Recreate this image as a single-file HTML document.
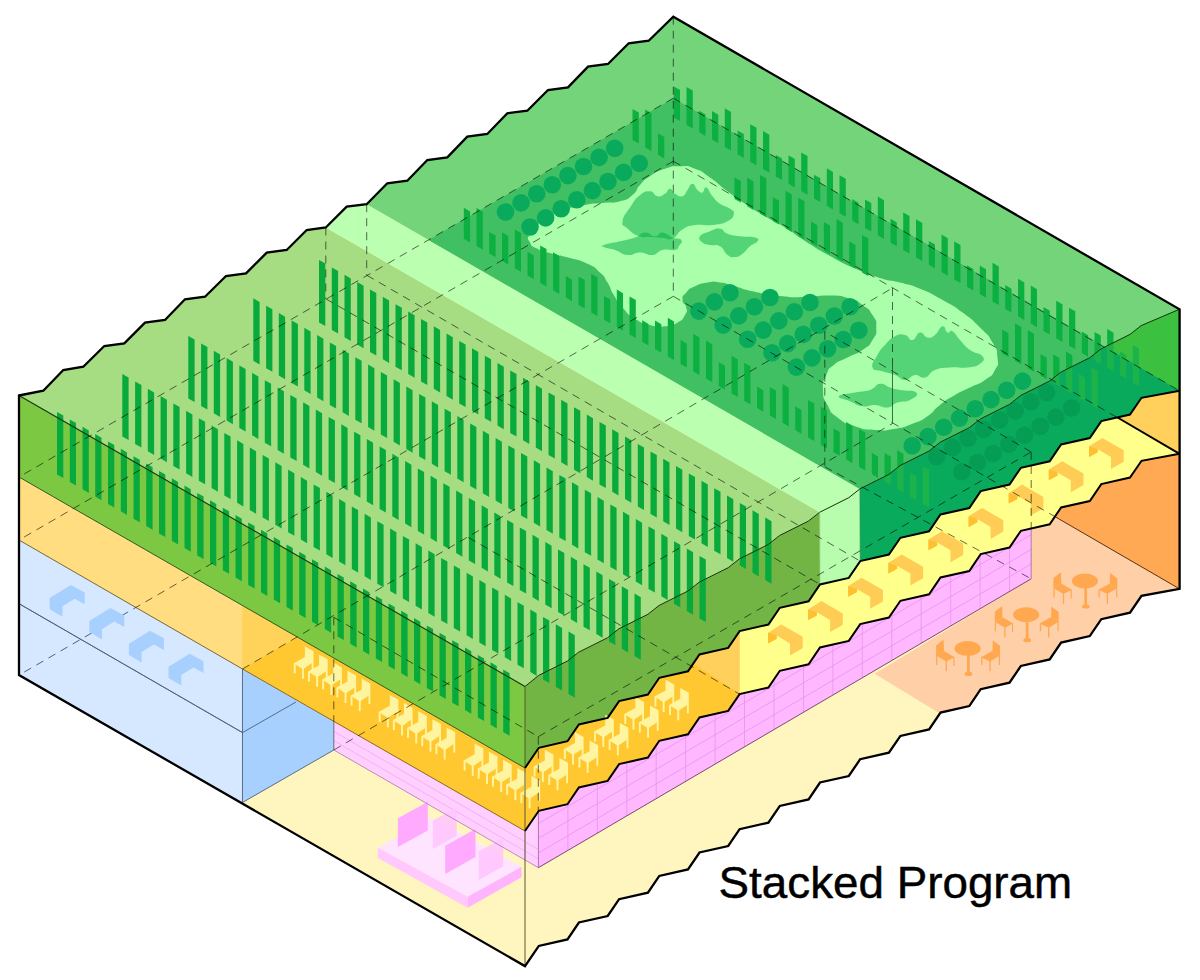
<!DOCTYPE html>
<html><head><meta charset="utf-8"><title>Stacked Program</title>
<style>
html,body{margin:0;padding:0;background:#fff;}
body{width:1200px;height:980px;overflow:hidden;font-family:"Liberation Sans",sans-serif;}
svg{display:block;}
</style></head><body>
<svg width="1200" height="980" viewBox="0 0 1200 980">
<rect width="1200" height="980" fill="#ffffff"/>
<polygon points="19,395.5 43.3,390.7 63.3,370 83.3,366.7 104.3,346 124.3,343.3 145,322.7 165,320 185,299.3 205,296.7 226,276 246,273.3 266.7,252.7 286.7,250 306.7,230 325.8,227.5 346.7,206.7 366.7,204.2 387.3,183.3 407.3,180.7 427.3,160 447.3,157.3 467.3,136.7 487.3,134 507.3,113.3 527.3,110.7 548,90 568,87.3 588,66.7 608,64 628.7,43.3 648.7,40.7 673.3,16.7 1179.6,309.3 1179.6,588.9 1141.5,595.9 1130,612.7 1101.3,619.2 1089.8,636.1 1061.1,642.6 1049.7,659.4 1020.9,665.9 1009.5,682.7 980.7,689.2 969.3,706.1 940.5,712.6 929.1,729.4 900.4,735.9 888.9,752.7 860.2,759.2 848.8,776 820,782.5 808.6,799.4 779.8,805.9 768.4,822.7 739.6,829.2 728.2,846 699.5,852.5 688,869.4 659.3,875.9 647.9,892.7 619.1,899.2 607.7,916 578.9,922.5 567.5,939.4 538.8,945.9 525,966.1 19,675.1" fill="#fff5bf" />
<polygon points="19,395.5 43.3,390.7 63.3,370 83.3,366.7 104.3,346 124.3,343.3 145,322.7 165,320 185,299.3 205,296.7 226,276 246,273.3 266.7,252.7 286.7,250 306.7,230 325.8,227.5 819.8,512.2 808.6,521 779.6,535.5 768.4,544.4 739.4,558.9 728.2,567.7 699.2,582.2 688,591 659,605.5 647.9,614.3 618.9,628.8 607.7,637.7 578.7,652.2 567.5,661 538.5,675.5 525,686.5" fill="#a6dc82" />
<polygon points="325.8,227.5 346.7,206.7 366.7,204.2 859.9,488.9 819.8,512.2" fill="#bbffb0" />
<polygon points="366.7,204.2 387.3,183.3 407.3,180.7 427.3,160 447.3,157.3 467.3,136.7 487.3,134 507.3,113.3 527.3,110.7 548,90 568,87.3 588,66.7 608,64 628.7,43.3 648.7,40.7 673.3,16.7 1179.6,309.3 1141.2,325.6 1130,334.4 1101,348.9 1089.8,357.7 1060.8,372.2 1049.7,381 1020.7,395.5 1009.5,404.4 980.5,418.9 969.3,427.7 940.3,442.2 929.1,451 900.1,465.5 888.9,474.4 859.9,488.9" fill="#74d47a" />
<polygon points="673.3,98.2 1105.3,346.7 1101,348.9 1089.8,357.7 1060.8,372.2 1049.7,381 1020.7,395.5 1009.5,404.4 980.5,418.9 969.3,427.7 940.3,442.2 929.1,451 900.1,465.5 888.9,474.4 859.9,488.9 428.5,239.9" fill="#40c062" />
<polygon points="19,395.5 525,686.5 525,768 19,477" fill="#7dc843" />
<polygon points="19,477 242.5,606 242.5,669 19,540" fill="#ffdd80" />
<polygon points="242.5,606 525,768 525,831 242.5,669" fill="#ffc830" />
<polygon points="242.5,606 297.1,637.5 242.5,669" fill="#ffd25a" />
<polygon points="19,540 242.5,669 242.5,802.5 19,675.1" fill="#d5e8ff" />
<polygon points="242.5,669 333.8,721.7 333.8,750 242.5,802.5" fill="#a8d0ff" />
<polygon points="333.8,721.7 525,831 538.8,810.8 538.4,867.7 333.8,750" fill="#ffd0ff" />
<polygon points="525,686.5 538.5,675.5 567.5,661 578.7,652.2 607.7,637.7 618.9,628.8 647.9,614.3 659,605.5 688,591 699.2,582.2 728.2,567.7 739.4,558.9 768.4,544.4 779.6,535.5 808.6,521 819.8,512.2 820,584.4 808.6,601.3 779.8,607.8 768.4,624.6 739.6,631.1 728.2,647.9 699.5,654.4 688,671.3 659.3,677.8 647.9,694.6 619.1,701.1 607.7,717.9 578.9,724.4 567.5,741.2 538.8,747.8 525,768" fill="#72b545" />
<polygon points="819.8,512.2 859.9,488.9 860.2,561.1 848.8,577.9 820,584.4" fill="#b8fcae" />
<polygon points="859.9,488.9 888.9,474.4 900.1,465.5 929.1,451 940.3,442.2 969.3,427.7 980.5,418.9 1009.5,404.4 1020.7,395.5 1049.7,381 1060.8,372.2 1089.8,357.7 1101,348.9 1130,334.4 1141.2,325.6 1179.6,309.2 1179.6,390.7 1141.5,397.8 1130,414.6 1101.3,421.1 1089.8,438 1061.1,444.5 1049.7,461.3 1020.9,467.8 1009.5,484.6 980.7,491.1 969.3,508 940.5,514.5 929.1,531.3 900.4,537.8 888.9,554.6 860.2,561.1" fill="#0aaa5c" />
<polygon points="1130,334.4 1141.2,325.6 1179.6,309.2 1179.6,390.8 1105.3,346.7" fill="#3cc040" />
<polygon points="525,768 538.8,747.8 567.5,741.2 578.9,724.4 607.7,717.9 619.1,701.1 647.9,694.6 659.3,677.8 688,671.3 699.5,654.4 728.2,647.9 739.6,631.1 739.6,694.1 728.2,710.9 699.5,717.4 688,734.3 659.3,740.8 647.9,757.6 619.1,764.1 607.7,780.9 578.9,787.4 567.5,804.2 538.8,810.8 525,831" fill="#ffc830" />
<polygon points="739.6,631.1 768.4,624.6 779.8,607.8 808.6,601.3 820,584.4 848.8,577.9 860.2,561.1 888.9,554.6 900.4,537.8 929.1,531.3 940.5,514.5 969.3,508 980.7,491.1 1009.5,484.6 1020.9,467.8 1049.7,461.3 1061.1,444.5 1089.8,438 1101.3,421.1 1130,414.6 1141.5,397.8 1179.6,390.7 1179.6,453.7 1141.5,460.8 1130,477.6 1101.3,484.1 1089.8,501 1061.1,507.5 1049.7,524.3 1020.9,530.8 1009.5,547.6 980.7,554.1 969.3,571 940.5,577.5 929.1,594.3 900.4,600.8 888.9,617.6 860.2,624.1 848.8,640.9 820,647.4 808.6,664.3 779.8,670.8 768.4,687.6 739.6,694.1" fill="#ffff8c" />
<polygon points="693.3,663.5 699.5,654.4 728.2,647.9 739.6,631.1 739.6,694.1" fill="#ffd15c" />
<polygon points="1117.5,417.5 1130,414.6 1141.5,397.8 1179.6,390.7 1179.6,453.8" fill="#ffd15c" />
<polygon points="538.4,811.3 538.8,810.8 567.5,804.2 578.9,787.4 607.7,780.9 619.1,764.1 647.9,757.6 659.3,740.8 688,734.3 699.5,717.4 728.2,710.9 739.6,694.1 768.4,687.6 779.8,670.8 808.6,664.3 820,647.4 848.8,640.9 860.2,624.1 888.9,617.6 900.4,600.8 929.1,594.3 940.5,577.5 969.3,571 980.7,554.1 1009.5,547.6 1020.9,530.8 1031.2,528.5 1031.2,578.8 538.4,867.7" fill="#ffb8ff" />
<polygon points="874.5,673.8 1031.2,578.8 1031.2,528.5 1049.7,524.3 1054.9,516.6 1179.6,588.9 1179.6,588.8 1141.5,595.9 1130,612.7 1101.3,619.2 1089.8,636.1 1061.1,642.6 1049.7,659.4 1020.9,665.9 1009.5,682.7 980.7,689.2 969.3,706.1 940.5,712.6 940,713.4" fill="#ffd0a8" />
<polygon points="1054.9,516.6 1061.1,507.5 1089.8,501 1101.3,484.1 1130,477.6 1141.5,460.8 1179.6,453.7 1179.6,588.9" fill="#ffa954" />
<polygon points="319,260 325.3,263.6 325.3,326.1 319,322.5" fill="#08aa3c" />
<polygon points="331.8,267.4 338.1,271 338.1,333.5 331.8,329.9" fill="#08aa3c" />
<polygon points="344.5,274.7 350.8,278.4 350.8,340.9 344.5,337.2" fill="#08aa3c" />
<polygon points="357.2,282.1 363.6,285.7 363.6,348.2 357.2,344.6" fill="#08aa3c" />
<polygon points="370,289.4 376.3,293.1 376.3,355.6 370,351.9" fill="#08aa3c" />
<polygon points="382.8,296.8 389.1,300.4 389.1,362.9 382.8,359.3" fill="#08aa3c" />
<polygon points="395.5,304.2 401.8,307.8 401.8,370.3 395.5,366.7" fill="#08aa3c" />
<polygon points="408.2,311.5 414.6,315.2 414.6,377.7 408.2,374" fill="#08aa3c" />
<polygon points="421,318.9 427.3,322.5 427.3,385 421,381.4" fill="#08aa3c" />
<polygon points="433.8,326.2 440.1,329.9 440.1,392.4 433.8,388.7" fill="#08aa3c" />
<polygon points="446.5,333.6 452.8,337.2 452.8,399.7 446.5,396.1" fill="#08aa3c" />
<polygon points="459.2,341 465.6,344.6 465.6,407.1 459.2,403.5" fill="#08aa3c" />
<polygon points="472,348.3 478.3,352 478.3,414.5 472,410.8" fill="#08aa3c" />
<polygon points="484.8,355.7 491.1,359.3 491.1,421.8 484.8,418.2" fill="#08aa3c" />
<polygon points="497.5,363 503.8,366.7 503.8,429.2 497.5,425.5" fill="#08aa3c" />
<polygon points="510.2,370.4 516.5,374 516.5,436.5 510.2,432.9" fill="#08aa3c" />
<polygon points="523,377.8 529.3,381.4 529.3,443.9 523,440.3" fill="#08aa3c" />
<polygon points="535.8,385.1 542,388.8 542,451.3 535.8,447.6" fill="#08aa3c" />
<polygon points="548.5,392.5 554.8,396.1 554.8,458.6 548.5,455" fill="#08aa3c" />
<polygon points="561.2,399.8 567.5,403.5 567.5,466 561.2,462.3" fill="#08aa3c" />
<polygon points="574,407.2 580.3,410.8 580.3,473.3 574,469.7" fill="#08aa3c" />
<polygon points="586.8,414.6 593,418.2 593,480.7 586.8,477.1" fill="#08aa3c" />
<polygon points="599.5,421.9 605.8,425.6 605.8,488.1 599.5,484.4" fill="#08aa3c" />
<polygon points="612.2,429.3 618.5,432.9 618.5,495.4 612.2,491.8" fill="#08aa3c" />
<polygon points="625,436.6 631.3,440.3 631.3,502.8 625,499.1" fill="#08aa3c" />
<polygon points="637.8,444 644,447.6 644,510.1 637.8,506.5" fill="#08aa3c" />
<polygon points="650.5,451.4 656.8,455 656.8,517.5 650.5,513.9" fill="#08aa3c" />
<polygon points="663.2,458.7 669.5,462.4 669.5,524.9 663.2,521.2" fill="#08aa3c" />
<polygon points="676,466.1 682.3,469.7 682.3,532.2 676,528.6" fill="#08aa3c" />
<polygon points="688.8,473.4 695,477.1 695,539.6 688.8,535.9" fill="#08aa3c" />
<polygon points="701.5,480.8 707.8,484.4 707.8,546.9 701.5,543.3" fill="#08aa3c" />
<polygon points="714.2,488.2 720.5,491.8 720.5,554.3 714.2,550.7" fill="#08aa3c" />
<polygon points="727,495.5 733.3,499.2 733.3,561.7 727,558" fill="#08aa3c" />
<polygon points="739.8,502.9 746,506.5 746,569 739.8,565.4" fill="#08aa3c" />
<polygon points="752.5,510.2 758.8,513.9 758.8,576.4 752.5,572.7" fill="#08aa3c" />
<polygon points="765.2,517.6 771.5,521.2 771.5,583.7 765.2,580.1" fill="#08aa3c" />
<polygon points="253.3,298.3 259.6,301.9 259.6,364.4 253.3,360.8" fill="#08aa3c" />
<polygon points="266.1,305.7 272.4,309.3 272.4,371.8 266.1,368.2" fill="#08aa3c" />
<polygon points="278.8,313 285.1,316.7 285.1,379.2 278.8,375.5" fill="#08aa3c" />
<polygon points="291.6,320.4 297.9,324 297.9,386.5 291.6,382.9" fill="#08aa3c" />
<polygon points="304.3,327.7 310.6,331.4 310.6,393.9 304.3,390.2" fill="#08aa3c" />
<polygon points="317.1,335.1 323.4,338.7 323.4,401.2 317.1,397.6" fill="#08aa3c" />
<polygon points="329.8,342.5 336.1,346.1 336.1,408.6 329.8,405" fill="#08aa3c" />
<polygon points="342.6,349.8 348.9,353.5 348.9,416 342.6,412.3" fill="#08aa3c" />
<polygon points="355.3,357.2 361.6,360.8 361.6,423.3 355.3,419.7" fill="#08aa3c" />
<polygon points="368.1,364.5 374.4,368.2 374.4,430.7 368.1,427" fill="#08aa3c" />
<polygon points="380.8,371.9 387.1,375.5 387.1,438 380.8,434.4" fill="#08aa3c" />
<polygon points="393.6,379.3 399.9,382.9 399.9,445.4 393.6,441.8" fill="#08aa3c" />
<polygon points="406.3,386.6 412.6,390.3 412.6,452.8 406.3,449.1" fill="#08aa3c" />
<polygon points="419.1,394 425.4,397.6 425.4,460.1 419.1,456.5" fill="#08aa3c" />
<polygon points="431.8,401.3 438.1,405 438.1,467.5 431.8,463.8" fill="#08aa3c" />
<polygon points="444.6,408.7 450.9,412.3 450.9,474.8 444.6,471.2" fill="#08aa3c" />
<polygon points="457.3,416.1 463.6,419.7 463.6,482.2 457.3,478.6" fill="#08aa3c" />
<polygon points="470.1,423.4 476.4,427.1 476.4,489.6 470.1,485.9" fill="#08aa3c" />
<polygon points="482.8,430.8 489.1,434.4 489.1,496.9 482.8,493.3" fill="#08aa3c" />
<polygon points="495.6,438.1 501.9,441.8 501.9,504.3 495.6,500.6" fill="#08aa3c" />
<polygon points="508.3,445.5 514.6,449.1 514.6,511.6 508.3,508" fill="#08aa3c" />
<polygon points="521,452.9 527.3,456.5 527.3,519 521,515.4" fill="#08aa3c" />
<polygon points="533.8,460.2 540.1,463.9 540.1,526.4 533.8,522.7" fill="#08aa3c" />
<polygon points="546.5,467.6 552.8,471.2 552.8,533.7 546.5,530.1" fill="#08aa3c" />
<polygon points="559.3,474.9 565.6,478.6 565.6,541.1 559.3,537.4" fill="#08aa3c" />
<polygon points="572,482.3 578.3,485.9 578.3,548.4 572,544.8" fill="#08aa3c" />
<polygon points="584.8,489.7 591.1,493.3 591.1,555.8 584.8,552.2" fill="#08aa3c" />
<polygon points="597.5,497 603.8,500.7 603.8,563.2 597.5,559.5" fill="#08aa3c" />
<polygon points="610.3,504.4 616.6,508 616.6,570.5 610.3,566.9" fill="#08aa3c" />
<polygon points="623,511.7 629.3,515.4 629.3,577.9 623,574.2" fill="#08aa3c" />
<polygon points="635.8,519.1 642.1,522.7 642.1,585.2 635.8,581.6" fill="#08aa3c" />
<polygon points="648.5,526.5 654.8,530.1 654.8,592.6 648.5,589" fill="#08aa3c" />
<polygon points="661.3,533.8 667.6,537.5 667.6,600 661.3,596.3" fill="#08aa3c" />
<polygon points="674,541.2 680.3,544.8 680.3,607.3 674,603.7" fill="#08aa3c" />
<polygon points="686.8,548.5 693.1,552.2 693.1,614.7 686.8,611" fill="#08aa3c" />
<polygon points="699.5,555.9 705.8,559.5 705.8,622 699.5,618.4" fill="#08aa3c" />
<polygon points="188.3,336 194.6,339.6 194.6,402.1 188.3,398.5" fill="#08aa3c" />
<polygon points="201.1,343.4 207.4,347 207.4,409.5 201.1,405.9" fill="#08aa3c" />
<polygon points="213.8,350.7 220.1,354.4 220.1,416.9 213.8,413.2" fill="#08aa3c" />
<polygon points="226.6,358.1 232.9,361.7 232.9,424.2 226.6,420.6" fill="#08aa3c" />
<polygon points="239.3,365.4 245.6,369.1 245.6,431.6 239.3,427.9" fill="#08aa3c" />
<polygon points="252.1,372.8 258.4,376.4 258.4,438.9 252.1,435.3" fill="#08aa3c" />
<polygon points="264.8,380.2 271.1,383.8 271.1,446.3 264.8,442.7" fill="#08aa3c" />
<polygon points="277.6,387.5 283.9,391.2 283.9,453.7 277.6,450" fill="#08aa3c" />
<polygon points="290.3,394.9 296.6,398.5 296.6,461 290.3,457.4" fill="#08aa3c" />
<polygon points="303.1,402.2 309.4,405.9 309.4,468.4 303.1,464.7" fill="#08aa3c" />
<polygon points="315.8,409.6 322.1,413.2 322.1,475.7 315.8,472.1" fill="#08aa3c" />
<polygon points="328.6,417 334.9,420.6 334.9,483.1 328.6,479.5" fill="#08aa3c" />
<polygon points="341.3,424.3 347.6,428 347.6,490.5 341.3,486.8" fill="#08aa3c" />
<polygon points="354.1,431.7 360.4,435.3 360.4,497.8 354.1,494.2" fill="#08aa3c" />
<polygon points="366.8,439 373.1,442.7 373.1,505.2 366.8,501.5" fill="#08aa3c" />
<polygon points="379.6,446.4 385.9,450 385.9,512.5 379.6,508.9" fill="#08aa3c" />
<polygon points="392.3,453.8 398.6,457.4 398.6,519.9 392.3,516.3" fill="#08aa3c" />
<polygon points="405.1,461.1 411.4,464.8 411.4,527.3 405.1,523.6" fill="#08aa3c" />
<polygon points="417.8,468.5 424.1,472.1 424.1,534.6 417.8,531" fill="#08aa3c" />
<polygon points="430.6,475.8 436.9,479.5 436.9,542 430.6,538.3" fill="#08aa3c" />
<polygon points="443.3,483.2 449.6,486.8 449.6,549.3 443.3,545.7" fill="#08aa3c" />
<polygon points="456.1,490.6 462.4,494.2 462.4,556.7 456.1,553.1" fill="#08aa3c" />
<polygon points="468.8,497.9 475.1,501.6 475.1,564.1 468.8,560.4" fill="#08aa3c" />
<polygon points="481.6,505.3 487.9,508.9 487.9,571.4 481.6,567.8" fill="#08aa3c" />
<polygon points="494.3,512.6 500.6,516.3 500.6,578.8 494.3,575.1" fill="#08aa3c" />
<polygon points="507.1,520 513.4,523.6 513.4,586.1 507.1,582.5" fill="#08aa3c" />
<polygon points="519.8,527.4 526.1,531 526.1,593.5 519.8,589.9" fill="#08aa3c" />
<polygon points="532.5,534.7 538.8,538.4 538.8,600.9 532.5,597.2" fill="#08aa3c" />
<polygon points="545.3,542.1 551.6,545.7 551.6,608.2 545.3,604.6" fill="#08aa3c" />
<polygon points="558,549.4 564.3,553.1 564.3,615.6 558,611.9" fill="#08aa3c" />
<polygon points="570.8,556.8 577.1,560.4 577.1,622.9 570.8,619.3" fill="#08aa3c" />
<polygon points="583.5,564.2 589.8,567.8 589.8,630.3 583.5,626.7" fill="#08aa3c" />
<polygon points="596.3,571.5 602.6,575.2 602.6,637.7 596.3,634" fill="#08aa3c" />
<polygon points="609,578.9 615.3,582.5 615.3,645 609,641.4" fill="#08aa3c" />
<polygon points="621.8,586.2 628.1,589.9 628.1,652.4 621.8,648.7" fill="#08aa3c" />
<polygon points="634.5,593.6 640.8,597.2 640.8,659.7 634.5,656.1" fill="#08aa3c" />
<polygon points="122.3,374 128.6,377.6 128.6,440.1 122.3,436.5" fill="#08aa3c" />
<polygon points="135.1,381.4 141.4,385 141.4,447.5 135.1,443.9" fill="#08aa3c" />
<polygon points="147.8,388.7 154.1,392.4 154.1,454.9 147.8,451.2" fill="#08aa3c" />
<polygon points="160.6,396.1 166.9,399.7 166.9,462.2 160.6,458.6" fill="#08aa3c" />
<polygon points="173.3,403.4 179.6,407.1 179.6,469.6 173.3,465.9" fill="#08aa3c" />
<polygon points="186.1,410.8 192.4,414.4 192.4,476.9 186.1,473.3" fill="#08aa3c" />
<polygon points="198.8,418.2 205.1,421.8 205.1,484.3 198.8,480.7" fill="#08aa3c" />
<polygon points="211.6,425.5 217.9,429.2 217.9,491.7 211.6,488" fill="#08aa3c" />
<polygon points="224.3,432.9 230.6,436.5 230.6,499 224.3,495.4" fill="#08aa3c" />
<polygon points="237.1,440.2 243.4,443.9 243.4,506.4 237.1,502.7" fill="#08aa3c" />
<polygon points="249.8,447.6 256.1,451.2 256.1,513.7 249.8,510.1" fill="#08aa3c" />
<polygon points="262.6,455 268.9,458.6 268.9,521.1 262.6,517.5" fill="#08aa3c" />
<polygon points="275.3,462.3 281.6,466 281.6,528.5 275.3,524.8" fill="#08aa3c" />
<polygon points="288.1,469.7 294.4,473.3 294.4,535.8 288.1,532.2" fill="#08aa3c" />
<polygon points="300.8,477 307.1,480.7 307.1,543.2 300.8,539.5" fill="#08aa3c" />
<polygon points="313.6,484.4 319.9,488 319.9,550.5 313.6,546.9" fill="#08aa3c" />
<polygon points="326.3,491.8 332.6,495.4 332.6,557.9 326.3,554.3" fill="#08aa3c" />
<polygon points="339.1,499.1 345.4,502.8 345.4,565.3 339.1,561.6" fill="#08aa3c" />
<polygon points="351.8,506.5 358.1,510.1 358.1,572.6 351.8,569" fill="#08aa3c" />
<polygon points="364.6,513.8 370.9,517.5 370.9,580 364.6,576.3" fill="#08aa3c" />
<polygon points="377.3,521.2 383.6,524.8 383.6,587.3 377.3,583.7" fill="#08aa3c" />
<polygon points="390.1,528.6 396.4,532.2 396.4,594.7 390.1,591.1" fill="#08aa3c" />
<polygon points="402.8,535.9 409.1,539.6 409.1,602.1 402.8,598.4" fill="#08aa3c" />
<polygon points="415.6,543.3 421.9,546.9 421.9,609.4 415.6,605.8" fill="#08aa3c" />
<polygon points="428.3,550.6 434.6,554.3 434.6,616.8 428.3,613.1" fill="#08aa3c" />
<polygon points="441.1,558 447.4,561.6 447.4,624.1 441.1,620.5" fill="#08aa3c" />
<polygon points="453.8,565.4 460.1,569 460.1,631.5 453.8,627.9" fill="#08aa3c" />
<polygon points="466.6,572.7 472.9,576.4 472.9,638.9 466.6,635.2" fill="#08aa3c" />
<polygon points="479.3,580.1 485.6,583.7 485.6,646.2 479.3,642.6" fill="#08aa3c" />
<polygon points="492.1,587.4 498.4,591.1 498.4,653.6 492.1,649.9" fill="#08aa3c" />
<polygon points="504.8,594.8 511.1,598.4 511.1,660.9 504.8,657.3" fill="#08aa3c" />
<polygon points="517.5,602.2 523.8,605.8 523.8,668.3 517.5,664.7" fill="#08aa3c" />
<polygon points="530.3,609.5 536.6,613.2 536.6,675.7 530.3,672" fill="#08aa3c" />
<polygon points="543,616.9 549.3,620.5 549.3,683 543,679.4" fill="#08aa3c" />
<polygon points="555.8,624.2 562.1,627.9 562.1,690.4 555.8,686.7" fill="#08aa3c" />
<polygon points="568.5,631.6 574.8,635.2 574.8,697.7 568.5,694.1" fill="#08aa3c" />
<polygon points="57,412 63.3,415.6 63.3,478.1 57,474.5" fill="#08aa3c" />
<polygon points="69.8,419.4 76,423 76,485.5 69.8,481.9" fill="#08aa3c" />
<polygon points="82.5,426.7 88.8,430.4 88.8,492.9 82.5,489.2" fill="#08aa3c" />
<polygon points="95.2,434.1 101.5,437.7 101.5,500.2 95.2,496.6" fill="#08aa3c" />
<polygon points="108,441.4 114.3,445.1 114.3,507.6 108,503.9" fill="#08aa3c" />
<polygon points="120.8,448.8 127,452.4 127,514.9 120.8,511.3" fill="#08aa3c" />
<polygon points="133.5,456.2 139.8,459.8 139.8,522.3 133.5,518.7" fill="#08aa3c" />
<polygon points="146.2,463.5 152.6,467.2 152.6,529.7 146.2,526" fill="#08aa3c" />
<polygon points="159,470.9 165.3,474.5 165.3,537 159,533.4" fill="#08aa3c" />
<polygon points="171.8,478.2 178.1,481.9 178.1,544.4 171.8,540.7" fill="#08aa3c" />
<polygon points="184.5,485.6 190.8,489.2 190.8,551.7 184.5,548.1" fill="#08aa3c" />
<polygon points="197.2,493 203.6,496.6 203.6,559.1 197.2,555.5" fill="#08aa3c" />
<polygon points="210,500.3 216.3,504 216.3,566.5 210,562.8" fill="#08aa3c" />
<polygon points="222.8,507.7 229.1,511.3 229.1,573.8 222.8,570.2" fill="#08aa3c" />
<polygon points="235.5,515 241.8,518.7 241.8,581.2 235.5,577.5" fill="#08aa3c" />
<polygon points="248.2,522.4 254.6,526 254.6,588.5 248.2,584.9" fill="#08aa3c" />
<polygon points="261,529.8 267.3,533.4 267.3,595.9 261,592.3" fill="#08aa3c" />
<polygon points="273.8,537.1 280.1,540.8 280.1,603.3 273.8,599.6" fill="#08aa3c" />
<polygon points="286.5,544.5 292.8,548.1 292.8,610.6 286.5,607" fill="#08aa3c" />
<polygon points="299.2,551.8 305.6,555.5 305.6,618 299.2,614.3" fill="#08aa3c" />
<polygon points="312,559.2 318.3,562.8 318.3,625.3 312,621.7" fill="#08aa3c" />
<polygon points="324.8,566.6 331.1,570.2 331.1,632.7 324.8,629.1" fill="#08aa3c" />
<polygon points="337.5,573.9 343.8,577.6 343.8,640.1 337.5,636.4" fill="#08aa3c" />
<polygon points="350.2,581.3 356.6,584.9 356.6,647.4 350.2,643.8" fill="#08aa3c" />
<polygon points="363,588.6 369.3,592.3 369.3,654.8 363,651.1" fill="#08aa3c" />
<polygon points="375.8,596 382.1,599.6 382.1,662.1 375.8,658.5" fill="#08aa3c" />
<polygon points="388.5,603.4 394.8,607 394.8,669.5 388.5,665.9" fill="#08aa3c" />
<polygon points="401.2,610.7 407.6,614.4 407.6,676.9 401.2,673.2" fill="#08aa3c" />
<polygon points="414,618.1 420.3,621.7 420.3,684.2 414,680.6" fill="#08aa3c" />
<polygon points="426.8,625.4 433.1,629.1 433.1,691.6 426.8,687.9" fill="#08aa3c" />
<polygon points="439.5,632.8 445.8,636.4 445.8,698.9 439.5,695.3" fill="#08aa3c" />
<polygon points="452.2,640.2 458.6,643.8 458.6,706.3 452.2,702.7" fill="#08aa3c" />
<polygon points="465,647.5 471.3,651.2 471.3,713.7 465,710" fill="#08aa3c" />
<polygon points="477.8,654.9 484.1,658.5 484.1,721 477.8,717.4" fill="#08aa3c" />
<polygon points="490.5,662.2 496.8,665.9 496.8,728.4 490.5,724.7" fill="#08aa3c" />
<polygon points="503.2,669.6 509.6,673.2 509.6,735.7 503.2,732.1" fill="#08aa3c" />
<path d="M680,166.3C690,166.3 685,165.1 695,168.8C705,172.5 699.2,170 710,177.5C720.8,185 715.8,182.5 727.5,191.3C739.2,200.1 732.5,195.5 745,203.8C757.5,212.1 751.7,208.4 765,216.3C778.3,224.2 771.7,219.3 785,227.5C798.3,235.7 790,231.5 805,241C820,250.5 813.3,246.8 830,256C846.7,265.2 838.3,261.2 855,268.5C871.7,275.8 865,273.3 880,278C895,282.7 886.7,278.9 900,282.5C913.3,286.1 905.8,283 920,288.8C934.2,294.6 928.3,292.1 942.5,300C956.7,307.9 950,303.3 962.5,312.5C975,321.7 970,317.5 980,327.5C990,337.5 986.7,332.5 992.5,342.5C998.3,352.5 996.7,348.3 997.5,357.5C998.3,366.7 999.2,362.5 995,370C990.8,377.5 993.3,374.2 985,380C976.7,385.8 980,382.5 970,387.5C960,392.5 965,389.2 955,395C945,400.8 949.2,397.9 940,405C930.8,412.1 936.7,410 927.5,416.3C918.3,422.6 923.3,419.6 912.5,423.8C901.7,428 907.5,426.7 895,428.8C882.5,430.9 888.3,430.8 875,430C861.7,429.2 867.5,430.5 855,426.3C842.5,422.1 846.7,424.6 837.5,417.5C828.3,410.4 832.3,414.2 827.5,405C822.7,395.8 823.4,400 823,390C822.6,380 822.7,383.3 826.3,375C829.9,366.7 826.7,370.8 833.8,365C840.9,359.2 837.9,362.5 847.5,357.5C857.1,352.5 854.2,355.8 862.5,350C870.8,344.2 867.9,347.5 872.5,340C877.1,332.5 876.3,335.8 876.3,327.5C876.3,319.2 877.1,322.5 872.5,315C867.9,307.5 870,310.4 862.5,305C855,299.6 860.8,302 850,298.8C839.2,295.6 845,296.1 830,295.5C815,294.9 821.7,296.8 805,297C788.3,297.2 797.5,297.9 780,296C762.5,294.1 767.5,294.5 752.5,291.3C737.5,288.1 745.8,289.2 735,286.3C724.2,283.4 729.2,283.8 720,282.5C710.8,281.2 715.8,281.2 707.5,282.5C699.2,283.8 702.1,283 695,286.3C687.9,289.6 690.5,287.9 686.3,292.5C682.1,297.1 682.5,295 682.5,300C682.5,305 685.5,302.5 686.3,307.5C687.1,312.5 687.9,310 685,315C682.1,320 684.2,318.7 677.5,322.5C670.8,326.3 674.2,325.5 665,326.3C655.8,327.1 660,327.5 650,325C640,322.5 644.2,324.6 635,318.8C625.8,313 629.6,315.4 622.5,307.5C615.4,299.6 618.8,303.3 613.8,295C608.8,286.7 612.1,290 607.5,282.5C602.9,275 606.7,278.7 600,272.5C593.3,266.3 597.5,268.6 587.5,263.8C577.5,259 581.7,261.3 570,258C558.3,254.7 563.3,256.9 552.5,253.8C541.7,250.7 545,252.6 537.5,248.8C530,245 532.5,247.5 530,242.5C527.5,237.5 526.7,240.5 530,233.8C533.3,227.1 530.8,229.6 540,222.5C549.2,215.4 543.3,218.2 557.5,212.5C571.7,206.8 567.5,208.7 582.5,205.5C597.5,202.3 590,204.4 602.5,203C615,201.6 610,204 620,201.3C630,198.6 625.8,200.4 632.5,195C639.2,189.6 634.2,191.2 640,185C645.8,178.8 641.7,181.7 650,176.3C658.3,170.9 655,172.1 665,168.8C675,165.5 670,166.3 680,166.3Z" fill="#aaffaa" />
<path d="M622.5,221.3C623.2,215.7 625.3,214.5 630,207.5C634.7,200.5 634.7,199.3 640,195C645.3,190.7 645.3,191 650,191.3C654.7,191.6 653.5,195.6 657.5,196.3C661.5,197 661.7,195.8 665,193.8C668.3,191.8 667.3,188.8 670,188.8C672.7,188.8 671.7,191.8 675,193.8C678.3,195.8 679.2,197.3 682.5,196.3C685.8,195.3 684.8,193.3 687.5,190C690.2,186.7 689.8,183.8 692.5,183.8C695.2,183.8 694.8,187.7 697.5,190C700.2,192.3 700.2,193.2 702.5,192.5C704.8,191.8 703.6,186.5 706.3,187.5C709,188.5 708.8,192 712.5,196.3C716.2,200.6 715.3,200.5 720,203.8C724.7,207.1 726.3,206.1 730,208.8C733.7,211.5 734.5,210.5 733.8,213.8C733.1,217.1 733.2,218.3 727.5,221.3C721.8,224.3 721.2,224 712.5,225C703.8,226 703,223.8 695,225C687,226.2 688.5,225.9 682.5,229.5C676.5,233.1 677.8,236.2 672.5,238.5C667.2,240.8 668.5,238.4 662.5,238C656.5,237.6 656.4,237.5 650,237C643.6,236.5 644.5,238.3 638.5,236C632.5,233.7 631.8,232.4 627.5,228.5C623.2,224.6 621.8,226.9 622.5,221.3Z" fill="#00aa44" fill-opacity="0.5"/>
<path d="M603.8,245C607.8,243.3 611.7,243.3 620,241.3C628.3,239.3 628.3,239.8 635,237.5C641.7,235.2 639.7,232.8 645,232.5C650.3,232.2 650.3,236.3 655,236.3C659.7,236.3 657.8,232.2 662.5,232.5C667.2,232.8 667.5,235.5 672.5,237.5C677.5,239.5 679.6,237.7 681.3,240C683,242.3 680.5,243.6 678.8,246.3C677.1,249 679.3,249 675,250C670.7,251 668.5,248.7 662.5,250C656.5,251.3 658.5,254.3 652.5,255C646.5,255.7 646.7,252.5 640,252.5C633.3,252.5 634.2,255.7 627.5,255C620.8,254.3 621,252 615,250C609,248 608,248.8 605,247.5C602,246.2 599.8,246.7 603.8,245Z" fill="#00aa44" fill-opacity="0.5"/>
<path d="M700,236.3C702,233.3 704.7,233.3 710,231.3C715.3,229.3 715.3,228.1 720,228.8C724.7,229.5 722.2,231.8 727.5,233.8C732.8,235.8 732.7,235.3 740,236.3C747.3,237.3 750.3,236.2 755,237.5C759.7,238.8 758.8,239 757.5,241.3C756.2,243.6 754,243 750,246.3C746,249.6 746.5,250.9 742.5,253.8C738.5,256.7 739,256.7 735,257C731,257.3 731.5,257.9 727.5,255C723.5,252.1 724.7,249 720,246.3C715.3,243.6 714.7,246 710,245C705.3,244 705.2,244.8 702.5,242.5C699.8,240.2 698,239.3 700,236.3Z" fill="#00aa44" fill-opacity="0.5"/>
<path d="M872.5,367.5C871.2,363.2 874.2,361 877.5,355C880.8,349 880.3,350 885,345C889.7,340 889.7,339 895,336.3C900.3,333.6 900.3,334 905,335C909.7,336 908.5,340.7 912.5,340C916.5,339.3 916,333.2 920,332.5C924,331.8 923.5,336.8 927.5,337.5C931.5,338.2 931,338 935,335C939,332 939.2,327 942.5,326.3C945.8,325.6 944.8,331.2 947.5,332.5C950.2,333.8 949.2,329.3 952.5,331.3C955.8,333.3 955.3,335 960,340C964.7,345 964,345.7 970,350C976,354.3 979.8,352.6 982.5,356.3C985.2,360 984,360.8 980,363.8C976,366.8 975.5,366.5 967.5,367.5C959.5,368.5 958.7,366.8 950,367.5C941.3,368.2 941.7,367.3 935,370C928.3,372.7 930.3,376.2 925,377.5C919.7,378.8 920.3,374.3 915,375C909.7,375.7 910.3,380 905,380C899.7,380 901,377.3 895,375C889,372.7 888.5,373.3 882.5,371.3C876.5,369.3 873.8,371.8 872.5,367.5Z" fill="#00aa44" fill-opacity="0.5"/>
<path d="M838.8,396.3C840.1,394 846.7,394.2 855,392.5C863.3,390.8 863.3,392.3 870,390C876.7,387.7 874.7,384.5 880,383.8C885.3,383.1 884.7,385.8 890,387.5C895.3,389.2 893,388.7 900,390C907,391.3 913.6,389.8 916.3,392.5C919,395.2 915,397.3 910,400C905,402.7 903.5,400.5 897.5,402.5C891.5,404.5 893.5,406.8 887.5,407.5C881.5,408.2 881.7,405.3 875,405C868.3,404.7 869.2,407.3 862.5,406.3C855.8,405.3 856.3,404 850,401.3C843.7,398.6 837.5,398.6 838.8,396.3Z" fill="#00aa44" fill-opacity="0.5"/>
<circle cx="505.5" cy="212" r="8.8" fill="#0aaa5c"/>
<circle cx="521.1" cy="202.9" r="8.8" fill="#0aaa5c"/>
<circle cx="536.7" cy="193.8" r="8.8" fill="#0aaa5c"/>
<circle cx="552.3" cy="184.7" r="8.8" fill="#0aaa5c"/>
<circle cx="567.9" cy="175.6" r="8.8" fill="#0aaa5c"/>
<circle cx="583.5" cy="166.5" r="8.8" fill="#0aaa5c"/>
<circle cx="599.1" cy="157.4" r="8.8" fill="#0aaa5c"/>
<circle cx="614.7" cy="148.3" r="8.8" fill="#0aaa5c"/>
<circle cx="530" cy="227" r="8.8" fill="#0aaa5c"/>
<circle cx="545.6" cy="217.9" r="8.8" fill="#0aaa5c"/>
<circle cx="561.2" cy="208.8" r="8.8" fill="#0aaa5c"/>
<circle cx="576.8" cy="199.7" r="8.8" fill="#0aaa5c"/>
<circle cx="592.4" cy="190.6" r="8.8" fill="#0aaa5c"/>
<circle cx="608" cy="181.5" r="8.8" fill="#0aaa5c"/>
<circle cx="623.6" cy="172.4" r="8.8" fill="#0aaa5c"/>
<circle cx="639.2" cy="163.3" r="8.8" fill="#0aaa5c"/>
<circle cx="730" cy="292.7" r="8.8" fill="#0aaa5c"/>
<circle cx="714.4" cy="301.9" r="8.8" fill="#0aaa5c"/>
<circle cx="698.8" cy="311.1" r="8.8" fill="#0aaa5c"/>
<circle cx="770" cy="297.5" r="8.8" fill="#0aaa5c"/>
<circle cx="754.4" cy="306.7" r="8.8" fill="#0aaa5c"/>
<circle cx="738.8" cy="315.9" r="8.8" fill="#0aaa5c"/>
<circle cx="723.2" cy="325.1" r="8.8" fill="#0aaa5c"/>
<circle cx="810" cy="302.5" r="8.8" fill="#0aaa5c"/>
<circle cx="794.4" cy="311.7" r="8.8" fill="#0aaa5c"/>
<circle cx="778.8" cy="320.9" r="8.8" fill="#0aaa5c"/>
<circle cx="763.2" cy="330.1" r="8.8" fill="#0aaa5c"/>
<circle cx="747.6" cy="339.3" r="8.8" fill="#0aaa5c"/>
<circle cx="850" cy="306.8" r="8.8" fill="#0aaa5c"/>
<circle cx="834.4" cy="316" r="8.8" fill="#0aaa5c"/>
<circle cx="818.8" cy="325.2" r="8.8" fill="#0aaa5c"/>
<circle cx="803.2" cy="334.4" r="8.8" fill="#0aaa5c"/>
<circle cx="787.6" cy="343.6" r="8.8" fill="#0aaa5c"/>
<circle cx="772" cy="352.8" r="8.8" fill="#0aaa5c"/>
<circle cx="858.8" cy="330.3" r="8.8" fill="#0aaa5c"/>
<circle cx="843.2" cy="339.5" r="8.8" fill="#0aaa5c"/>
<circle cx="827.6" cy="348.7" r="8.8" fill="#0aaa5c"/>
<circle cx="812" cy="357.9" r="8.8" fill="#0aaa5c"/>
<circle cx="796.4" cy="367.1" r="8.8" fill="#0aaa5c"/>
<circle cx="912.2" cy="445.8" r="8.8" fill="#0aaa5c"/>
<circle cx="928" cy="436.6" r="8.8" fill="#0aaa5c"/>
<circle cx="943.7" cy="427.3" r="8.8" fill="#0aaa5c"/>
<circle cx="959.5" cy="418.1" r="8.8" fill="#0aaa5c"/>
<circle cx="975.2" cy="408.8" r="8.8" fill="#0aaa5c"/>
<circle cx="991" cy="399.6" r="8.8" fill="#0aaa5c"/>
<circle cx="1006.7" cy="390.3" r="8.8" fill="#0aaa5c"/>
<circle cx="1022.5" cy="381.1" r="8.8" fill="#0aaa5c"/>
<clipPath id="ctop"><polygon points="19,395.5 43.3,390.7 63.3,370 83.3,366.7 104.3,346 124.3,343.3 145,322.7 165,320 185,299.3 205,296.7 226,276 246,273.3 266.7,252.7 286.7,250 306.7,230 325.8,227.5 346.7,206.7 366.7,204.2 387.3,183.3 407.3,180.7 427.3,160 447.3,157.3 467.3,136.7 487.3,134 507.3,113.3 527.3,110.7 548,90 568,87.3 588,66.7 608,64 628.7,43.3 648.7,40.7 673.3,16.7 1179.6,309.3 1179.6,309.2 1141.2,325.6 1130,334.4 1101,348.9 1089.8,357.7 1060.8,372.2 1049.7,381 1020.7,395.5 1009.5,404.4 980.5,418.9 969.3,427.7 940.3,442.2 929.1,451 900.1,465.5 888.9,474.4 859.9,488.9 848.8,497.7 819.8,512.2 808.6,521 779.6,535.5 768.4,544.4 739.4,558.9 728.2,567.7 699.2,582.2 688,591 659,605.5 647.9,614.3 618.9,628.8 607.7,637.7 578.7,652.2 567.5,661 538.5,675.5 525,686.5"/></clipPath>
<clipPath id="ccut"><polygon points="525,686.5 538.5,675.5 567.5,661 578.7,652.2 607.7,637.7 618.9,628.8 647.9,614.3 659,605.5 688,591 699.2,582.2 728.2,567.7 739.4,558.9 768.4,544.4 779.6,535.5 808.6,521 819.8,512.2 848.8,497.7 859.9,488.9 888.9,474.4 900.1,465.5 929.1,451 940.3,442.2 969.3,427.7 980.5,418.9 1009.5,404.4 1020.7,395.5 1049.7,381 1060.8,372.2 1089.8,357.7 1101,348.9 1130,334.4 1141.2,325.6 1179.6,309.2 1179.6,390.7 1141.5,397.8 1130,414.6 1101.3,421.1 1089.8,438 1061.1,444.5 1049.7,461.3 1020.9,467.8 1009.5,484.6 980.7,491.1 969.3,508 940.5,514.5 929.1,531.3 900.4,537.8 888.9,554.6 860.2,561.1 848.8,577.9 820,584.4 808.6,601.3 779.8,607.8 768.4,624.6 739.6,631.1 728.2,647.9 699.5,654.4 688,671.3 659.3,677.8 647.9,694.6 619.1,701.1 607.7,717.9 578.9,724.4 567.5,741.2 538.8,747.8 525,768"/></clipPath>
<g clip-path="url(#ctop)">
<polygon points="673.8,86.5 680,90.1 680,121.1 673.8,117.5" fill="#0cb040" />
<polygon points="686.5,86.9 692.8,90.5 692.8,128.5 686.5,124.9" fill="#0cb040" />
<polygon points="699.2,110.7 705.5,114.4 705.5,135.9 699.2,132.2" fill="#0cb040" />
<polygon points="712,111.1 718.3,114.7 718.3,143.2 712,139.6" fill="#0cb040" />
<polygon points="724.8,108.2 731,111.9 731,150.6 724.8,146.9" fill="#0cb040" />
<polygon points="737.5,130.5 743.8,134.1 743.8,157.9 737.5,154.3" fill="#0cb040" />
<polygon points="750.2,124.2 756.5,127.8 756.5,165.3 750.2,161.7" fill="#0cb040" />
<polygon points="763,131 769.3,134.7 769.3,172.7 763,169" fill="#0cb040" />
<polygon points="775.8,154.9 782,158.5 782,180 775.8,176.4" fill="#0cb040" />
<polygon points="788.5,155.2 794.8,158.9 794.8,187.4 788.5,183.7" fill="#0cb040" />
<polygon points="801.2,152.4 807.5,156 807.5,194.7 801.2,191.1" fill="#0cb040" />
<polygon points="814,174.7 820.3,178.3 820.3,202.1 814,198.5" fill="#0cb040" />
<polygon points="826.8,168.3 833,172 833,209.5 826.8,205.8" fill="#0cb040" />
<polygon points="839.5,175.2 845.8,178.8 845.8,216.8 839.5,213.2" fill="#0cb040" />
<polygon points="852.2,199 858.5,202.7 858.5,224.2 852.2,220.5" fill="#0cb040" />
<polygon points="865,199.4 871.3,203 871.3,231.5 865,227.9" fill="#0cb040" />
<polygon points="877.8,196.6 884,200.2 884,238.9 877.8,235.3" fill="#0cb040" />
<polygon points="890.5,218.8 896.8,222.5 896.8,246.3 890.5,242.6" fill="#0cb040" />
<polygon points="903.2,212.5 909.5,216.1 909.5,253.6 903.2,250" fill="#0cb040" />
<polygon points="916,219.3 922.3,223 922.3,261 916,257.3" fill="#0cb040" />
<polygon points="928.8,240.9 935,244.5 935,268.3 928.8,264.7" fill="#0cb040" />
<polygon points="941.5,234.6 947.8,238.2 947.8,275.7 941.5,272.1" fill="#0cb040" />
<polygon points="954.2,241.4 960.5,245.1 960.5,283.1 954.2,279.4" fill="#0cb040" />
<polygon points="967,265.3 973.3,268.9 973.3,290.4 967,286.8" fill="#0cb040" />
<polygon points="979.8,265.6 986,269.3 986,297.8 979.8,294.1" fill="#0cb040" />
<polygon points="992.5,262.8 998.8,266.4 998.8,305.1 992.5,301.5" fill="#0cb040" />
<polygon points="1005.2,285.1 1011.5,288.7 1011.5,312.5 1005.2,308.9" fill="#0cb040" />
<polygon points="1018,278.7 1024.3,282.4 1024.3,319.9 1018,316.2" fill="#0cb040" />
<polygon points="1030.8,285.6 1037,289.2 1037,327.2 1030.8,323.6" fill="#0cb040" />
<polygon points="1043.5,307.1 1049.8,310.8 1049.8,334.6 1043.5,330.9" fill="#0cb040" />
<polygon points="1056.2,300.8 1062.5,304.4 1062.5,341.9 1056.2,338.3" fill="#0cb040" />
<polygon points="1069,307.7 1075.3,311.3 1075.3,349.3 1069,345.7" fill="#0cb040" />
<polygon points="1081.8,331.5 1088,335.2 1088,356.7 1081.8,353" fill="#0cb040" />
<polygon points="1094.5,331.9 1100.8,335.5 1100.8,364 1094.5,360.4" fill="#0cb040" />
<polygon points="1107.2,329 1113.5,332.7 1113.5,371.4 1107.2,367.7" fill="#0cb040" />
<polygon points="1120,351.3 1126.3,354.9 1126.3,378.7 1120,375.1" fill="#0cb040" />
<polygon points="1132.8,345 1139,348.6 1139,386.1 1132.8,382.5" fill="#0cb040" />
<polygon points="632.5,109 638.8,112.6 638.8,143.6 632.5,140" fill="#0cb040" />
<polygon points="645.2,109.4 651.5,113 651.5,151 645.2,147.4" fill="#0cb040" />
<polygon points="658,133.2 664.3,136.9 664.3,158.4 658,154.7" fill="#0cb040" />
<polygon points="734.5,177.4 740.8,181 740.8,202.5 734.5,198.9" fill="#0cb040" />
<polygon points="747.2,177.7 753.5,181.4 753.5,209.9 747.2,206.2" fill="#0cb040" />
<polygon points="760,174.9 766.3,178.5 766.3,217.2 760,213.6" fill="#0cb040" />
<polygon points="772.8,197.2 779,200.8 779,224.6 772.8,221" fill="#0cb040" />
<polygon points="785.5,190.8 791.8,194.5 791.8,232 785.5,228.3" fill="#0cb040" />
<polygon points="798.2,197.7 804.5,201.3 804.5,239.3 798.2,235.7" fill="#0cb040" />
<polygon points="811,221.5 817.3,225.2 817.3,246.7 811,243" fill="#0cb040" />
<polygon points="823.8,221.9 830,225.5 830,254 823.8,250.4" fill="#0cb040" />
<polygon points="836.5,219.1 842.8,222.7 842.8,261.4 836.5,257.8" fill="#0cb040" />
<polygon points="849.2,241.3 855.5,245 855.5,268.8 849.2,265.1" fill="#0cb040" />
<polygon points="862,235 868.3,238.6 868.3,276.1 862,272.5" fill="#0cb040" />
<polygon points="1002.2,329.6 1008.5,333.3 1008.5,357.1 1002.2,353.4" fill="#0cb040" />
<polygon points="1015,323.3 1021.3,326.9 1021.3,364.4 1015,360.8" fill="#0cb040" />
<polygon points="1027.8,330.2 1034,333.8 1034,371.8 1027.8,368.2" fill="#0cb040" />
<polygon points="1040.5,354 1046.8,357.7 1046.8,379.2 1040.5,375.5" fill="#0cb040" />
<polygon points="1053.2,354.4 1059.5,358 1059.5,386.5 1053.2,382.9" fill="#0cb040" />
<polygon points="1066,351.5 1072.3,355.2 1072.3,393.9 1066,390.2" fill="#0cb040" />
<polygon points="1078.8,373.8 1085,377.4 1085,401.2 1078.8,397.6" fill="#0cb040" />
<polygon points="1091.5,367.5 1097.8,371.1 1097.8,408.6 1091.5,405" fill="#0cb040" />
<polygon points="463.8,207.8 470.1,211.4 470.1,242.4 463.8,238.8" fill="#0cb040" />
<polygon points="476.5,208.1 482.8,211.7 482.8,249.7 476.5,246.1" fill="#0cb040" />
<polygon points="489.2,232 495.6,235.6 495.6,257.1 489.2,253.5" fill="#0cb040" />
<polygon points="502,232.3 508.3,236 508.3,264.5 502,260.8" fill="#0cb040" />
<polygon points="514.8,229.5 521,233.1 521,271.8 514.8,268.2" fill="#0cb040" />
<polygon points="527.5,251.8 533.8,255.4 533.8,279.2 527.5,275.6" fill="#0cb040" />
<polygon points="540.2,245.4 546.5,249 546.5,286.5 540.2,282.9" fill="#0cb040" />
<polygon points="553,252.3 559.3,255.9 559.3,293.9 553,290.3" fill="#0cb040" />
<polygon points="565.8,276.1 572,279.8 572,301.3 565.8,297.6" fill="#0cb040" />
<polygon points="578.5,276.5 584.8,280.1 584.8,308.6 578.5,305" fill="#0cb040" />
<polygon points="591.2,273.7 597.5,277.3 597.5,316 591.2,312.4" fill="#0cb040" />
<polygon points="604,295.9 610.3,299.5 610.3,323.3 604,319.7" fill="#0cb040" />
<polygon points="616.8,289.6 623,293.2 623,330.7 616.8,327.1" fill="#0cb040" />
<polygon points="629.5,296.4 635.8,300.1 635.8,338.1 629.5,334.4" fill="#0cb040" />
<polygon points="642.2,320.3 648.5,323.9 648.5,345.4 642.2,341.8" fill="#0cb040" />
<polygon points="655,320.6 661.3,324.3 661.3,352.8 655,349.1" fill="#0cb040" />
<polygon points="667.8,317.8 674,321.4 674,360.1 667.8,356.5" fill="#0cb040" />
<polygon points="680.5,340.1 686.8,343.7 686.8,367.5 680.5,363.9" fill="#0cb040" />
<polygon points="693.2,333.7 699.5,337.4 699.5,374.9 693.2,371.2" fill="#0cb040" />
<polygon points="706,340.6 712.3,344.2 712.3,382.2 706,378.6" fill="#0cb040" />
<polygon points="718.8,362.2 725,365.8 725,389.6 718.8,386" fill="#0cb040" />
<polygon points="731.5,355.8 737.8,359.4 737.8,396.9 731.5,393.3" fill="#0cb040" />
<polygon points="744.2,362.7 750.5,366.3 750.5,404.3 744.2,400.7" fill="#0cb040" />
<polygon points="757,386.5 763.3,390.2 763.3,411.7 757,408" fill="#0cb040" />
<polygon points="769.8,386.9 776,390.5 776,419 769.8,415.4" fill="#0cb040" />
<polygon points="782.5,384.1 788.8,387.7 788.8,426.4 782.5,422.8" fill="#0cb040" />
<polygon points="795.2,406.3 801.5,409.9 801.5,433.7 795.2,430.1" fill="#0cb040" />
<polygon points="808,400 814.3,403.6 814.3,441.1 808,437.5" fill="#0cb040" />
<polygon points="820.8,406.8 827,410.5 827,448.5 820.8,444.8" fill="#0cb040" />
<polygon points="833.5,428.4 839.8,432 839.8,455.8 833.5,452.2" fill="#0cb040" />
<polygon points="846.2,422.1 852.5,425.7 852.5,463.2 846.2,459.6" fill="#0cb040" />
<polygon points="859,428.9 865.3,432.5 865.3,470.5 859,466.9" fill="#0cb040" />
<polygon points="871.8,452.8 878,456.4 878,477.9 871.8,474.3" fill="#0cb040" />
<polygon points="884.5,453.1 890.8,456.8 890.8,485.3 884.5,481.6" fill="#0cb040" />
<polygon points="897.2,450.3 903.5,453.9 903.5,492.6 897.2,489" fill="#0cb040" />
<polygon points="910,472.6 916.3,476.2 916.3,500 910,496.4" fill="#0cb040" />
<polygon points="922.8,466.2 929,469.8 929,507.3 922.8,503.7" fill="#0cb040" />
</g>
<g clip-path="url(#ccut)">
<circle cx="936.7" cy="456.7" r="8.8" fill="#059d53"/>
<circle cx="952.4" cy="447.6" r="8.8" fill="#059d53"/>
<circle cx="968.1" cy="438.4" r="8.8" fill="#059d53"/>
<circle cx="983.8" cy="429.2" r="8.8" fill="#059d53"/>
<circle cx="999.5" cy="420.1" r="8.8" fill="#059d53"/>
<circle cx="1015.2" cy="410.9" r="8.8" fill="#059d53"/>
<circle cx="1030.9" cy="401.8" r="8.8" fill="#059d53"/>
<circle cx="1046.6" cy="392.6" r="8.8" fill="#059d53"/>
<circle cx="961.7" cy="471.7" r="8.8" fill="#059d53"/>
<circle cx="977.4" cy="462.6" r="8.8" fill="#059d53"/>
<circle cx="993.1" cy="453.5" r="8.8" fill="#059d53"/>
<circle cx="1008.8" cy="444.4" r="8.8" fill="#059d53"/>
<circle cx="1024.5" cy="435.3" r="8.8" fill="#059d53"/>
<circle cx="1040.2" cy="426.2" r="8.8" fill="#059d53"/>
<circle cx="1055.9" cy="417.1" r="8.8" fill="#059d53"/>
<circle cx="1071.6" cy="408" r="8.8" fill="#059d53"/>
<polygon points="1043.5,307.1 1049.8,310.8 1049.8,334.6 1043.5,330.9" fill="#1cb44a" />
<polygon points="1056.2,300.8 1062.5,304.4 1062.5,341.9 1056.2,338.3" fill="#1cb44a" />
<polygon points="1069,307.7 1075.3,311.3 1075.3,349.3 1069,345.7" fill="#1cb44a" />
<polygon points="1081.8,331.5 1088,335.2 1088,356.7 1081.8,353" fill="#1cb44a" />
<polygon points="1094.5,331.9 1100.8,335.5 1100.8,364 1094.5,360.4" fill="#1cb44a" />
<polygon points="1107.2,329 1113.5,332.7 1113.5,371.4 1107.2,367.7" fill="#1cb44a" />
<polygon points="1120,351.3 1126.3,354.9 1126.3,378.7 1120,375.1" fill="#1cb44a" />
<polygon points="1132.8,345 1139,348.6 1139,386.1 1132.8,382.5" fill="#1cb44a" />
<polygon points="1002.2,329.6 1008.5,333.3 1008.5,357.1 1002.2,353.4" fill="#1cb44a" />
<polygon points="1015,323.3 1021.3,326.9 1021.3,364.4 1015,360.8" fill="#1cb44a" />
<polygon points="1027.8,330.2 1034,333.8 1034,371.8 1027.8,368.2" fill="#1cb44a" />
<polygon points="1040.5,354 1046.8,357.7 1046.8,379.2 1040.5,375.5" fill="#1cb44a" />
<polygon points="1053.2,354.4 1059.5,358 1059.5,386.5 1053.2,382.9" fill="#1cb44a" />
<polygon points="1066,351.5 1072.3,355.2 1072.3,393.9 1066,390.2" fill="#1cb44a" />
<polygon points="1078.8,373.8 1085,377.4 1085,401.2 1078.8,397.6" fill="#1cb44a" />
<polygon points="1091.5,367.5 1097.8,371.1 1097.8,408.6 1091.5,405" fill="#1cb44a" />
<polygon points="833.5,428.4 839.8,432 839.8,455.8 833.5,452.2" fill="#1cb44a" />
<polygon points="846.2,422.1 852.5,425.7 852.5,463.2 846.2,459.6" fill="#1cb44a" />
<polygon points="859,428.9 865.3,432.5 865.3,470.5 859,466.9" fill="#1cb44a" />
<polygon points="871.8,452.8 878,456.4 878,477.9 871.8,474.3" fill="#1cb44a" />
<polygon points="884.5,453.1 890.8,456.8 890.8,485.3 884.5,481.6" fill="#1cb44a" />
<polygon points="897.2,450.3 903.5,453.9 903.5,492.6 897.2,489" fill="#1cb44a" />
<polygon points="910,472.6 916.3,476.2 916.3,500 910,496.4" fill="#1cb44a" />
<polygon points="922.8,466.2 929,469.8 929,507.3 922.8,503.7" fill="#1cb44a" />
</g>
<clipPath id="pk"><polygon points="538.4,811.3 538.8,810.8 567.5,804.2 578.9,787.4 607.7,780.9 619.1,764.1 647.9,757.6 659.3,740.8 688,734.3 699.5,717.4 728.2,710.9 739.6,694.1 768.4,687.6 779.8,670.8 808.6,664.3 820,647.4 848.8,640.9 860.2,624.1 888.9,617.6 900.4,600.8 929.1,594.3 940.5,577.5 969.3,571 980.7,554.1 1009.5,547.6 1020.9,530.8 1031.2,528.5 1031.2,578.8 538.4,867.7"/></clipPath>
<g clip-path="url(#pk)" stroke="#e792ee" stroke-width="0.8" fill="none">
<line x1="538.4" y1="867.7" x2="538.4" y2="807.7"/>
<line x1="567.9" y1="850.4" x2="567.9" y2="790.4"/>
<line x1="597.3" y1="833.2" x2="597.3" y2="773.2"/>
<line x1="626.8" y1="815.9" x2="626.8" y2="755.9"/>
<line x1="656.2" y1="798.6" x2="656.2" y2="738.6"/>
<line x1="685.6" y1="781.4" x2="685.6" y2="721.4"/>
<line x1="715.1" y1="764.1" x2="715.1" y2="704.1"/>
<line x1="744.5" y1="746.8" x2="744.5" y2="686.8"/>
<line x1="774" y1="729.6" x2="774" y2="669.6"/>
<line x1="803.5" y1="712.3" x2="803.5" y2="652.3"/>
<line x1="832.9" y1="695" x2="832.9" y2="635"/>
<line x1="862.3" y1="677.8" x2="862.3" y2="617.8"/>
<line x1="891.8" y1="660.5" x2="891.8" y2="600.5"/>
<line x1="921.2" y1="643.2" x2="921.2" y2="583.2"/>
<line x1="950.7" y1="626" x2="950.7" y2="566"/>
<line x1="980.1" y1="608.7" x2="980.1" y2="548.7"/>
<line x1="1009.6" y1="591.4" x2="1009.6" y2="531.4"/>
<line x1="1039" y1="574.2" x2="1039" y2="514.2"/>
<line x1="538.4" y1="853" x2="1031.2" y2="564"/>
<line x1="538.4" y1="838.3" x2="1031.2" y2="549.4"/>
<line x1="538.4" y1="823.6" x2="1031.2" y2="534.6"/>
</g>
<polyline points="333.8,740.7 525,851.1 538.4,858.9" fill="none" stroke="#f0a8f4" stroke-width="0.8" />
<polyline points="333.8,731.4 525,841.8 538.4,849.6" fill="none" stroke="#f0a8f4" stroke-width="0.8" />
<polyline points="525,831 525,859.5" fill="none" stroke="#e0a0e8" stroke-width="0.8" />
<polygon points="304.9,646.4 313.5,651.2 313.5,662.7 304.9,658" fill="#fff5a0" />
<polygon points="293.8,663.3 304.9,657.1 313.5,662.1 303,669.2" fill="#fff5a0" />
<polygon points="293.8,663.1 295.7,664.1 295.7,673.3 293.8,673.3" fill="#fff5a0" />
<polygon points="302,668.2 303.9,668.2 303.9,678.7 302,678.7" fill="#fff5a0" />
<polygon points="311.7,662.2 313.5,662.2 313.5,671.7 311.7,671.7" fill="#fff5a0" />
<polygon points="319.1,654.5 327.7,659.3 327.7,670.8 319.1,666.1" fill="#fff5a0" />
<polygon points="308,671.4 319.1,665.2 327.7,670.2 317.2,677.3" fill="#fff5a0" />
<polygon points="308,671.2 309.9,672.2 309.9,681.4 308,681.4" fill="#fff5a0" />
<polygon points="316.2,676.3 318.1,676.3 318.1,686.8 316.2,686.8" fill="#fff5a0" />
<polygon points="325.9,670.3 327.7,670.3 327.7,679.8 325.9,679.8" fill="#fff5a0" />
<polygon points="333.3,662.6 341.9,667.4 341.9,678.9 333.3,674.2" fill="#fff5a0" />
<polygon points="322.2,679.5 333.3,673.3 341.9,678.3 331.4,685.4" fill="#fff5a0" />
<polygon points="322.2,679.3 324.1,680.3 324.1,689.5 322.2,689.5" fill="#fff5a0" />
<polygon points="330.4,684.4 332.3,684.4 332.3,694.9 330.4,694.9" fill="#fff5a0" />
<polygon points="340.1,678.4 341.9,678.4 341.9,687.9 340.1,687.9" fill="#fff5a0" />
<polygon points="347.5,670.7 356.1,675.5 356.1,687 347.5,682.3" fill="#fff5a0" />
<polygon points="336.4,687.6 347.5,681.4 356.1,686.4 345.6,693.5" fill="#fff5a0" />
<polygon points="336.4,687.4 338.3,688.4 338.3,697.6 336.4,697.6" fill="#fff5a0" />
<polygon points="344.6,692.5 346.5,692.5 346.5,703 344.6,703" fill="#fff5a0" />
<polygon points="354.3,686.5 356.1,686.5 356.1,696 354.3,696" fill="#fff5a0" />
<polygon points="361.7,678.8 370.3,683.6 370.3,695.1 361.7,690.4" fill="#fff5a0" />
<polygon points="350.6,695.7 361.7,689.5 370.3,694.5 359.8,701.6" fill="#fff5a0" />
<polygon points="350.6,695.5 352.5,696.5 352.5,705.7 350.6,705.7" fill="#fff5a0" />
<polygon points="358.8,700.6 360.7,700.6 360.7,711.1 358.8,711.1" fill="#fff5a0" />
<polygon points="368.5,694.6 370.3,694.6 370.3,704.1 368.5,704.1" fill="#fff5a0" />
<polygon points="389.8,695 398.4,699.8 398.4,711.3 389.8,706.6" fill="#fff5a0" />
<polygon points="378.7,711.9 389.8,705.7 398.4,710.7 387.9,717.8" fill="#fff5a0" />
<polygon points="378.7,711.7 380.6,712.7 380.6,721.9 378.7,721.9" fill="#fff5a0" />
<polygon points="386.9,716.8 388.8,716.8 388.8,727.3 386.9,727.3" fill="#fff5a0" />
<polygon points="396.6,710.8 398.4,710.8 398.4,720.3 396.6,720.3" fill="#fff5a0" />
<polygon points="404,703.1 412.6,707.9 412.6,719.4 404,714.7" fill="#fff5a0" />
<polygon points="392.9,720 404,713.8 412.6,718.8 402.1,725.9" fill="#fff5a0" />
<polygon points="392.9,719.8 394.8,720.8 394.8,730 392.9,730" fill="#fff5a0" />
<polygon points="401.1,724.9 403,724.9 403,735.4 401.1,735.4" fill="#fff5a0" />
<polygon points="410.8,718.9 412.6,718.9 412.6,728.4 410.8,728.4" fill="#fff5a0" />
<polygon points="418.2,711.2 426.8,716 426.8,727.5 418.2,722.8" fill="#fff5a0" />
<polygon points="407.1,728.1 418.2,721.9 426.8,726.9 416.3,734" fill="#fff5a0" />
<polygon points="407.1,727.9 409,728.9 409,738.1 407.1,738.1" fill="#fff5a0" />
<polygon points="415.3,733 417.2,733 417.2,743.5 415.3,743.5" fill="#fff5a0" />
<polygon points="425,727 426.8,727 426.8,736.5 425,736.5" fill="#fff5a0" />
<polygon points="432.4,719.3 441,724.1 441,735.6 432.4,730.9" fill="#fff5a0" />
<polygon points="421.3,736.2 432.4,730 441,735 430.5,742.1" fill="#fff5a0" />
<polygon points="421.3,736 423.2,737 423.2,746.2 421.3,746.2" fill="#fff5a0" />
<polygon points="429.5,741.1 431.4,741.1 431.4,751.6 429.5,751.6" fill="#fff5a0" />
<polygon points="439.2,735.1 441,735.1 441,744.6 439.2,744.6" fill="#fff5a0" />
<polygon points="446.6,727.4 455.2,732.2 455.2,743.7 446.6,739" fill="#fff5a0" />
<polygon points="435.5,744.3 446.6,738.1 455.2,743.1 444.7,750.2" fill="#fff5a0" />
<polygon points="435.5,744.1 437.4,745.1 437.4,754.3 435.5,754.3" fill="#fff5a0" />
<polygon points="443.7,749.2 445.6,749.2 445.6,759.7 443.7,759.7" fill="#fff5a0" />
<polygon points="453.4,743.2 455.2,743.2 455.2,752.7 453.4,752.7" fill="#fff5a0" />
<polygon points="474.7,743.6 483.3,748.4 483.3,759.9 474.7,755.2" fill="#fff5a0" />
<polygon points="463.6,760.5 474.7,754.3 483.3,759.3 472.8,766.4" fill="#fff5a0" />
<polygon points="463.6,760.3 465.5,761.3 465.5,770.5 463.6,770.5" fill="#fff5a0" />
<polygon points="471.8,765.4 473.7,765.4 473.7,775.9 471.8,775.9" fill="#fff5a0" />
<polygon points="481.5,759.4 483.3,759.4 483.3,768.9 481.5,768.9" fill="#fff5a0" />
<polygon points="488.9,751.7 497.5,756.5 497.5,768 488.9,763.3" fill="#fff5a0" />
<polygon points="477.8,768.6 488.9,762.4 497.5,767.4 487,774.5" fill="#fff5a0" />
<polygon points="477.8,768.4 479.7,769.4 479.7,778.6 477.8,778.6" fill="#fff5a0" />
<polygon points="486,773.5 487.9,773.5 487.9,784 486,784" fill="#fff5a0" />
<polygon points="495.7,767.5 497.5,767.5 497.5,777 495.7,777" fill="#fff5a0" />
<polygon points="503.1,759.8 511.7,764.6 511.7,776.1 503.1,771.4" fill="#fff5a0" />
<polygon points="492,776.7 503.1,770.5 511.7,775.5 501.2,782.6" fill="#fff5a0" />
<polygon points="492,776.5 493.9,777.5 493.9,786.7 492,786.7" fill="#fff5a0" />
<polygon points="500.2,781.6 502.1,781.6 502.1,792.1 500.2,792.1" fill="#fff5a0" />
<polygon points="509.9,775.6 511.7,775.6 511.7,785.1 509.9,785.1" fill="#fff5a0" />
<polygon points="517.3,767.9 525.9,772.7 525.9,784.2 517.3,779.5" fill="#fff5a0" />
<polygon points="506.2,784.8 517.3,778.6 525.9,783.6 515.4,790.7" fill="#fff5a0" />
<polygon points="506.2,784.6 508.1,785.6 508.1,794.8 506.2,794.8" fill="#fff5a0" />
<polygon points="514.4,789.7 516.3,789.7 516.3,800.2 514.4,800.2" fill="#fff5a0" />
<polygon points="524.1,783.7 525.9,783.7 525.9,793.2 524.1,793.2" fill="#fff5a0" />
<polygon points="531.5,776 540.1,780.8 540.1,792.3 531.5,787.6" fill="#fff5a0" />
<polygon points="520.4,792.9 531.5,786.7 540.1,791.7 529.6,798.8" fill="#fff5a0" />
<polygon points="520.4,792.7 522.3,793.7 522.3,802.9 520.4,802.9" fill="#fff5a0" />
<polygon points="528.6,797.8 530.5,797.8 530.5,808.3 528.6,808.3" fill="#fff5a0" />
<polygon points="538.3,791.8 540.1,791.8 540.1,801.3 538.3,801.3" fill="#fff5a0" />
<polygon points="544.8,749.7 553.4,754.5 553.4,766 544.8,761.3" fill="#fff5a0" />
<polygon points="533.7,766.6 544.8,760.4 553.4,765.4 542.9,772.5" fill="#fff5a0" />
<polygon points="533.7,766.4 535.6,767.4 535.6,776.6 533.7,776.6" fill="#fff5a0" />
<polygon points="541.9,771.5 543.8,771.5 543.8,782 541.9,782" fill="#fff5a0" />
<polygon points="551.6,765.5 553.4,765.5 553.4,775 551.6,775" fill="#fff5a0" />
<polygon points="559.4,758 568,762.8 568,774.3 559.4,769.6" fill="#fff5a0" />
<polygon points="548.3,774.9 559.4,768.7 568,773.7 557.5,780.8" fill="#fff5a0" />
<polygon points="548.3,774.7 550.2,775.7 550.2,784.9 548.3,784.9" fill="#fff5a0" />
<polygon points="556.5,779.8 558.4,779.8 558.4,790.3 556.5,790.3" fill="#fff5a0" />
<polygon points="566.2,773.8 568,773.8 568,783.3 566.2,783.3" fill="#fff5a0" />
<polygon points="575,732.2 583.6,737 583.6,748.5 575,743.8" fill="#fff5a0" />
<polygon points="563.9,749.1 575,742.9 583.6,747.9 573.1,755" fill="#fff5a0" />
<polygon points="563.9,748.9 565.8,749.9 565.8,759.1 563.9,759.1" fill="#fff5a0" />
<polygon points="572.1,754 574,754 574,764.5 572.1,764.5" fill="#fff5a0" />
<polygon points="581.8,748 583.6,748 583.6,757.5 581.8,757.5" fill="#fff5a0" />
<polygon points="589.6,740.5 598.2,745.3 598.2,756.8 589.6,752.1" fill="#fff5a0" />
<polygon points="578.5,757.4 589.6,751.2 598.2,756.2 587.7,763.3" fill="#fff5a0" />
<polygon points="578.5,757.2 580.4,758.2 580.4,767.4 578.5,767.4" fill="#fff5a0" />
<polygon points="586.7,762.3 588.6,762.3 588.6,772.8 586.7,772.8" fill="#fff5a0" />
<polygon points="596.4,756.3 598.2,756.3 598.2,765.8 596.4,765.8" fill="#fff5a0" />
<polygon points="605.2,714.7 613.8,719.5 613.8,731 605.2,726.3" fill="#fff5a0" />
<polygon points="594.1,731.6 605.2,725.4 613.8,730.4 603.3,737.5" fill="#fff5a0" />
<polygon points="594.1,731.4 596,732.4 596,741.6 594.1,741.6" fill="#fff5a0" />
<polygon points="602.3,736.5 604.2,736.5 604.2,747 602.3,747" fill="#fff5a0" />
<polygon points="612,730.5 613.8,730.5 613.8,740 612,740" fill="#fff5a0" />
<polygon points="619.8,723 628.4,727.8 628.4,739.3 619.8,734.6" fill="#fff5a0" />
<polygon points="608.7,739.9 619.8,733.7 628.4,738.7 617.9,745.8" fill="#fff5a0" />
<polygon points="608.7,739.7 610.6,740.7 610.6,749.9 608.7,749.9" fill="#fff5a0" />
<polygon points="616.9,744.8 618.8,744.8 618.8,755.3 616.9,755.3" fill="#fff5a0" />
<polygon points="626.6,738.8 628.4,738.8 628.4,748.3 626.6,748.3" fill="#fff5a0" />
<polygon points="635.4,697.2 644,702 644,713.5 635.4,708.8" fill="#fff5a0" />
<polygon points="624.3,714.1 635.4,707.9 644,712.9 633.5,720" fill="#fff5a0" />
<polygon points="624.3,713.9 626.2,714.9 626.2,724.1 624.3,724.1" fill="#fff5a0" />
<polygon points="632.5,719 634.4,719 634.4,729.5 632.5,729.5" fill="#fff5a0" />
<polygon points="642.2,713 644,713 644,722.5 642.2,722.5" fill="#fff5a0" />
<polygon points="650,705.5 658.6,710.3 658.6,721.8 650,717.1" fill="#fff5a0" />
<polygon points="638.9,722.4 650,716.2 658.6,721.2 648.1,728.3" fill="#fff5a0" />
<polygon points="638.9,722.2 640.8,723.2 640.8,732.4 638.9,732.4" fill="#fff5a0" />
<polygon points="647.1,727.3 649,727.3 649,737.8 647.1,737.8" fill="#fff5a0" />
<polygon points="656.8,721.3 658.6,721.3 658.6,730.8 656.8,730.8" fill="#fff5a0" />
<polygon points="665.6,679.7 674.2,684.5 674.2,696 665.6,691.3" fill="#fff5a0" />
<polygon points="654.5,696.6 665.6,690.4 674.2,695.4 663.7,702.5" fill="#fff5a0" />
<polygon points="654.5,696.4 656.4,697.4 656.4,706.6 654.5,706.6" fill="#fff5a0" />
<polygon points="662.7,701.5 664.6,701.5 664.6,712 662.7,712" fill="#fff5a0" />
<polygon points="672.4,695.5 674.2,695.5 674.2,705 672.4,705" fill="#fff5a0" />
<polygon points="680.2,688 688.8,692.8 688.8,704.3 680.2,699.6" fill="#fff5a0" />
<polygon points="669.1,704.9 680.2,698.7 688.8,703.7 678.3,710.8" fill="#fff5a0" />
<polygon points="669.1,704.7 671,705.7 671,714.9 669.1,714.9" fill="#fff5a0" />
<polygon points="677.3,709.8 679.2,709.8 679.2,720.3 677.3,720.3" fill="#fff5a0" />
<polygon points="687,703.8 688.8,703.8 688.8,713.3 687,713.3" fill="#fff5a0" />
<polygon points="768,632.7 781.4,624.4 802.7,636.7 802.7,648.1 790,655.4 790,643.4 776.7,635.6 776.7,638.7 768,643.4" fill="#ffcc55" />
<polygon points="768,632.7 776.7,635.6 776.7,638.7 768,643.4" fill="#ffc030" />
<polygon points="808.1,609.4 821.5,601.1 842.8,613.4 842.8,624.8 830.1,632.1 830.1,620.1 816.8,612.3 816.8,615.4 808.1,620.1" fill="#ffcc55" />
<polygon points="808.1,609.4 816.8,612.3 816.8,615.4 808.1,620.1" fill="#ffc030" />
<polygon points="848.2,586.1 861.6,577.8 882.9,590.1 882.9,601.5 870.2,608.8 870.2,596.8 856.9,589 856.9,592.1 848.2,596.8" fill="#ffcc55" />
<polygon points="848.2,586.1 856.9,589 856.9,592.1 848.2,596.8" fill="#ffc030" />
<polygon points="888.4,562.8 901.8,554.5 923.1,566.8 923.1,578.2 910.4,585.5 910.4,573.5 897.1,565.7 897.1,568.8 888.4,573.5" fill="#ffcc55" />
<polygon points="888.4,562.8 897.1,565.7 897.1,568.8 888.4,573.5" fill="#ffc030" />
<polygon points="928.5,539.5 941.9,531.2 963.2,543.5 963.2,554.9 950.5,562.2 950.5,550.2 937.2,542.4 937.2,545.5 928.5,550.2" fill="#ffcc55" />
<polygon points="928.5,539.5 937.2,542.4 937.2,545.5 928.5,550.2" fill="#ffc030" />
<polygon points="968.6,516.2 982,507.9 1003.3,520.2 1003.3,531.6 990.6,538.9 990.6,526.9 977.3,519.1 977.3,522.2 968.6,526.9" fill="#ffcc55" />
<polygon points="968.6,516.2 977.3,519.1 977.3,522.2 968.6,526.9" fill="#ffc030" />
<polygon points="1008.7,492.9 1022.1,484.6 1043.4,496.9 1043.4,508.3 1030.7,515.6 1030.7,503.6 1017.4,495.8 1017.4,498.9 1008.7,503.6" fill="#ffcc55" />
<polygon points="1008.7,492.9 1017.4,495.8 1017.4,498.9 1008.7,503.6" fill="#ffc030" />
<polygon points="1048.8,469.6 1062.2,461.3 1083.5,473.6 1083.5,485 1070.8,492.3 1070.8,480.3 1057.5,472.5 1057.5,475.6 1048.8,480.3" fill="#ffcc55" />
<polygon points="1048.8,469.6 1057.5,472.5 1057.5,475.6 1048.8,480.3" fill="#ffc030" />
<polygon points="1089,446.3 1102.4,438 1123.7,450.3 1123.7,461.7 1111,469 1111,457 1097.7,449.2 1097.7,452.3 1089,457" fill="#ffcc55" />
<polygon points="1089,446.3 1097.7,449.2 1097.7,452.3 1089,457" fill="#ffc030" />
<ellipse cx="967.6" cy="648.4" rx="13.1" ry="7.4" fill="#ffa850"/>
<polygon points="967,653.4 969.8,653.4 969.8,672.4 967,672.4" fill="#ffa850" />
<ellipse cx="968.5" cy="673.9" rx="3.9" ry="2.1" fill="#ffa850"/>
<polygon points="936.1,645.4 943.6,639.6 944,651 936.1,655.4" fill="#ffa850" />
<polygon points="936.1,655.4 944,651 954.5,657.2 946.2,661.5" fill="#ffa850" />
<polygon points="936.1,654.9 937.4,655.6 937.4,665 936.1,665" fill="#ffa850" />
<polygon points="945.6,660.9 946.9,660.9 946.9,671.2 945.6,671.2" fill="#ffa850" />
<polygon points="953.3,656.7 954.5,656.7 954.5,665.9 953.3,665.9" fill="#ffa850" />
<polygon points="992.6,640.2 1000,645.8 1000,655.4 992.6,651" fill="#ffa850" />
<polygon points="981.2,657.2 992.6,650.8 1000,655.4 990,661.5" fill="#ffa850" />
<polygon points="981.2,656.9 982.5,656.4 982.5,665 981.2,665" fill="#ffa850" />
<polygon points="989.4,661 990.7,661 990.7,671.2 989.4,671.2" fill="#ffa850" />
<polygon points="998.8,655.2 1000,655.2 1000,665 998.8,665" fill="#ffa850" />
<ellipse cx="1026.2" cy="614.7" rx="13.1" ry="7.4" fill="#ffa850"/>
<polygon points="1025.7,619.7 1028.5,619.7 1028.5,638.7 1025.7,638.7" fill="#ffa850" />
<ellipse cx="1027.2" cy="640.2" rx="3.9" ry="2.1" fill="#ffa850"/>
<polygon points="994.8,611.7 1002.2,605.9 1002.6,617.3 994.8,621.7" fill="#ffa850" />
<polygon points="994.8,621.7 1002.6,617.3 1013.1,623.5 1004.9,627.8" fill="#ffa850" />
<polygon points="994.8,621.2 996,621.9 996,631.3 994.8,631.3" fill="#ffa850" />
<polygon points="1004.2,627.2 1005.5,627.2 1005.5,637.5 1004.2,637.5" fill="#ffa850" />
<polygon points="1012,623 1013.1,623 1013.1,632.2 1012,632.2" fill="#ffa850" />
<polygon points="1051.2,606.5 1058.7,612.1 1058.7,621.7 1051.2,617.3" fill="#ffa850" />
<polygon points="1039.8,623.5 1051.2,617.1 1058.7,621.7 1048.7,627.8" fill="#ffa850" />
<polygon points="1039.8,623.2 1041.2,622.7 1041.2,631.3 1039.8,631.3" fill="#ffa850" />
<polygon points="1048,627.3 1049.3,627.3 1049.3,637.5 1048,637.5" fill="#ffa850" />
<polygon points="1057.5,621.5 1058.7,621.5 1058.7,631.3 1057.5,631.3" fill="#ffa850" />
<ellipse cx="1084.9" cy="581" rx="13.1" ry="7.4" fill="#ffa850"/>
<polygon points="1084.3,586 1087.1,586 1087.1,605 1084.3,605" fill="#ffa850" />
<ellipse cx="1085.8" cy="606.5" rx="3.9" ry="2.1" fill="#ffa850"/>
<polygon points="1053.4,578 1060.9,572.2 1061.3,583.6 1053.4,588" fill="#ffa850" />
<polygon points="1053.4,588 1061.3,583.6 1071.8,589.8 1063.5,594.1" fill="#ffa850" />
<polygon points="1053.4,587.5 1054.7,588.2 1054.7,597.6 1053.4,597.6" fill="#ffa850" />
<polygon points="1062.9,593.5 1064.2,593.5 1064.2,603.8 1062.9,603.8" fill="#ffa850" />
<polygon points="1070.6,589.3 1071.8,589.3 1071.8,598.5 1070.6,598.5" fill="#ffa850" />
<polygon points="1109.9,572.8 1117.3,578.4 1117.3,588 1109.9,583.6" fill="#ffa850" />
<polygon points="1098.5,589.8 1109.9,583.4 1117.3,588 1107.3,594.1" fill="#ffa850" />
<polygon points="1098.5,589.5 1099.8,589 1099.8,597.6 1098.5,597.6" fill="#ffa850" />
<polygon points="1106.7,593.6 1108,593.6 1108,603.8 1106.7,603.8" fill="#ffa850" />
<polygon points="1116.1,587.8 1117.3,587.8 1117.3,597.6 1116.1,597.6" fill="#ffa850" />
<polygon points="377.8,847.7 431.6,817.8 521.5,866.8 467.7,896.7" fill="#ffe4ff" />
<polygon points="377.8,847.7 467.7,896.7 467.7,907.7 377.8,858" fill="#ffc8ff" />
<polygon points="467.7,896.7 521.5,866.8 521.5,877.3 467.7,907.7" fill="#ffb4ff" />
<polygon points="432.9,820.8 456.7,807.6 456.7,835.8 432.9,849" fill="#ffc4ff" opacity="0.85"/>
<polygon points="397.9,818.3 427.8,801.7 427.8,830.4 397.9,847" fill="#ffaaff" opacity="1"/>
<polygon points="478.7,851.4 503.2,837.8 503.2,866.4 478.7,880" fill="#ffc4ff" opacity="0.85"/>
<polygon points="445.2,845.8 475.5,829 475.5,857.1 445.2,873.9" fill="#ffaaff" opacity="1"/>
<polyline points="19,395.5 525,686.5" fill="none" stroke="#14330c" stroke-width="1.1" />
<polyline points="19,477 525,768" fill="none" stroke="#2d5a18" stroke-width="1.0" />
<polyline points="19,540 242.5,669" fill="none" stroke="#6b5a20" stroke-width="0.9" />
<polyline points="242.5,669 525,831" fill="none" stroke="#7a5a10" stroke-width="0.9" />
<polyline points="19,603.7 242.5,732.6 296,702" fill="none" stroke="#50607a" stroke-width="0.9" />
<polyline points="242.5,669 242.5,802.5" fill="none" stroke="#50607a" stroke-width="0.9" />
<polyline points="242.5,802.5 333.8,750" fill="none" stroke="#50607a" stroke-width="0.9" />
<polyline points="333.8,722 333.8,750" fill="none" stroke="#50607a" stroke-width="0.9" />
<polyline points="333.8,750 538.4,867.7" fill="none" stroke="#b070b8" stroke-width="0.8" />
<polyline points="538.4,867.7 1031.2,578.8" fill="none" stroke="#6a3a6a" stroke-width="0.9" />
<polyline points="538.4,867.7 538.4,810.8" fill="none" stroke="#9a6a9a" stroke-width="0.8" />
<polyline points="1031.2,578.8 1031.2,528.5" fill="none" stroke="#9a6a9a" stroke-width="0.8" />
<polyline points="525,686.5 525,966.1" fill="none" stroke="#5a5a28" stroke-width="1.0" />
<polyline points="525,686.5 538.5,675.5 567.5,661 578.7,652.2 607.7,637.7 618.9,628.8 647.9,614.3 659,605.5 688,591 699.2,582.2 728.2,567.7 739.4,558.9 768.4,544.4 779.6,535.5 808.6,521 819.8,512.2 848.8,497.7 859.9,488.9 888.9,474.4 900.1,465.5 929.1,451 940.3,442.2 969.3,427.7 980.5,418.9 1009.5,404.4 1020.7,395.5 1049.7,381 1060.8,372.2 1089.8,357.7 1101,348.9 1130,334.4 1141.2,325.6 1179.6,309.2" fill="none" stroke="#14330c" stroke-width="1.0" />
<polyline points="1054.9,516.6 1179.6,588.9" fill="none" stroke="#5a3010" stroke-width="1.0" />
<polyline points="819.8,512.2 820,584.4" fill="none" stroke="#8fcf80" stroke-width="0.6" />
<polyline points="859.9,488.9 860.2,561.1" fill="none" stroke="#2a8a50" stroke-width="0.6" />
<g stroke="#000" stroke-opacity="0.62" stroke-width="0.95" fill="none" stroke-dasharray="8 6">
<line x1="673.3" y1="16.7" x2="673.3" y2="296.3"/>
<line x1="673.3" y1="98.2" x2="19" y2="477"/>
<line x1="673.3" y1="161.2" x2="19" y2="540"/>
<line x1="673.3" y1="296.3" x2="19" y2="675.1"/>
<line x1="673.3" y1="98.2" x2="1179.6" y2="390.8"/>
<line x1="673.3" y1="161.2" x2="1117.5" y2="417.7"/>
<line x1="673.3" y1="296.3" x2="1054.9" y2="516.6"/>
<line x1="325.8" y1="227.5" x2="325.8" y2="298.8"/>
<line x1="366.7" y1="204.2" x2="366.7" y2="275.2"/>
<line x1="325.8" y1="298.8" x2="820" y2="584.4"/>
<line x1="366.7" y1="275.2" x2="860.2" y2="561.1"/>
<line x1="242.5" y1="669" x2="892.5" y2="288"/>
<line x1="333.8" y1="750" x2="892.5" y2="423.5"/>
<line x1="892.5" y1="288" x2="892.5" y2="365"/>
<line x1="333.8" y1="617.3" x2="333.8" y2="722"/>
<line x1="333.8" y1="617.3" x2="538.3" y2="736.7"/>
<line x1="538.3" y1="736.7" x2="1031.2" y2="452"/>
<line x1="1031.2" y1="452" x2="824.8" y2="331.7"/>
<line x1="538.3" y1="736.7" x2="538.3" y2="810.8"/>
<line x1="1031.2" y1="452" x2="1031.2" y2="528.5"/>
<line x1="824.8" y1="466.8" x2="1031.2" y2="578.8"/>
<line x1="824.8" y1="331.7" x2="824.8" y2="466.8"/>
<line x1="468.4" y1="537.5" x2="739.6" y2="694.1"/>
</g>
<polyline points="892.5,365 892.5,423.5" fill="none" stroke="#1f4a2a" stroke-width="0.8" />
<polygon points="49.7,598 70.8,585 84.7,592.5 84.7,604.2 74.7,598.7 62.5,606.3 62.5,616.7 49.7,609.2" fill="#a8d0ff" />
<polygon points="89.3,620.9 110.4,607.9 124.3,615.4 124.3,627.1 114.3,621.6 102.1,629.2 102.1,639.6 89.3,632.1" fill="#a8d0ff" />
<polygon points="128.9,643.8 150,630.8 163.9,638.3 163.9,650 153.9,644.5 141.7,652.1 141.7,662.5 128.9,655" fill="#a8d0ff" />
<polygon points="168.5,666.7 189.6,653.7 203.5,661.2 203.5,672.9 193.5,667.4 181.3,675 181.3,685.4 168.5,677.9" fill="#a8d0ff" />
<polyline points="19,603.7 242.5,732.6" fill="none" stroke="#50607a" stroke-width="0.9" />
<polyline points="525,768 538.8,747.8 567.5,741.2 578.9,724.4 607.7,717.9 619.1,701.1 647.9,694.6 659.3,677.8 688,671.3 699.5,654.4 728.2,647.9 739.6,631.1 768.4,624.6 779.8,607.8 808.6,601.3 820,584.4 848.8,577.9 860.2,561.1 888.9,554.6 900.4,537.8 929.1,531.3 940.5,514.5 969.3,508 980.7,491.1 1009.5,484.6 1020.9,467.8 1049.7,461.3 1061.1,444.5 1089.8,438 1101.3,421.1 1130,414.6 1141.5,397.8 1179.6,390.7" fill="none" stroke="#000" stroke-width="2.0" stroke-linejoin="miter"/>
<polyline points="525,831 538.8,810.8 567.5,804.2 578.9,787.4 607.7,780.9 619.1,764.1 647.9,757.6 659.3,740.8 688,734.3 699.5,717.4 728.2,710.9 739.6,694.1 768.4,687.6 779.8,670.8 808.6,664.3 820,647.4 848.8,640.9 860.2,624.1 888.9,617.6 900.4,600.8 929.1,594.3 940.5,577.5 969.3,571 980.7,554.1 1009.5,547.6 1020.9,530.8 1049.7,524.3 1061.1,507.5 1089.8,501 1101.3,484.1 1130,477.6 1141.5,460.8 1179.6,453.7" fill="none" stroke="#000" stroke-width="2.0" stroke-linejoin="miter"/>
<polyline points="1117.5,417.5 1179.6,453.8" fill="none" stroke="#000" stroke-width="2.0" />
<polygon points="19,395.5 43.3,390.7 63.3,370 83.3,366.7 104.3,346 124.3,343.3 145,322.7 165,320 185,299.3 205,296.7 226,276 246,273.3 266.7,252.7 286.7,250 306.7,230 325.8,227.5 346.7,206.7 366.7,204.2 387.3,183.3 407.3,180.7 427.3,160 447.3,157.3 467.3,136.7 487.3,134 507.3,113.3 527.3,110.7 548,90 568,87.3 588,66.7 608,64 628.7,43.3 648.7,40.7 673.3,16.7 1179.6,309.3 1179.6,588.9 1141.5,595.9 1130,612.7 1101.3,619.2 1089.8,636.1 1061.1,642.6 1049.7,659.4 1020.9,665.9 1009.5,682.7 980.7,689.2 969.3,706.1 940.5,712.6 929.1,729.4 900.4,735.9 888.9,752.7 860.2,759.2 848.8,776 820,782.5 808.6,799.4 779.8,805.9 768.4,822.7 739.6,829.2 728.2,846 699.5,852.5 688,869.4 659.3,875.9 647.9,892.7 619.1,899.2 607.7,916 578.9,922.5 567.5,939.4 538.8,945.9 525,966.1 19,675.1" fill="none" stroke="#000" stroke-width="2.3" stroke-linejoin="miter"/>
<text x="718.6" y="898.4" font-family="Liberation Sans, sans-serif" font-size="44.6" textLength="353.6" lengthAdjust="spacingAndGlyphs" fill="#000" stroke="#000" stroke-width="0.45">Stacked Program</text>
</svg>
</body></html>
